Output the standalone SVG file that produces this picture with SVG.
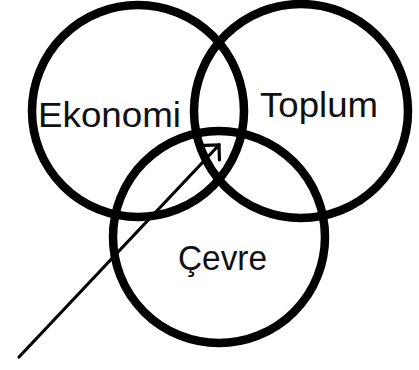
<svg xmlns="http://www.w3.org/2000/svg" width="419" height="370" viewBox="0 0 419 370">
<style>
.ring{fill:none;stroke:#000;stroke-width:8.5}
.lbl{font-family:"Liberation Sans","DejaVu Sans",sans-serif;font-size:35px;fill:#111}
.conn{fill:none;stroke:#000;stroke-width:3.2;stroke-linecap:round}
</style>
<defs>
<marker id="arrow" markerUnits="userSpaceOnUse" markerWidth="30" markerHeight="30" viewBox="-15 -15 30 30" refX="0" refY="0" orient="auto" overflow="visible">
<path d="M-10.5,-10.5 L0,0 L-10.5,10.5" fill="none" stroke="#000" stroke-width="3.2" stroke-linecap="round" stroke-linejoin="miter"/>
</marker>
</defs>
<rect width="419" height="370" fill="#fff"/>
<g id="ekonomi">
<circle class="ring" cx="138" cy="111" r="106"/>
<text class="lbl" x="38" y="127" textLength="143" lengthAdjust="spacingAndGlyphs">Ekonomi</text>
</g>
<g id="toplum">
<circle class="ring" cx="301" cy="111" r="107"/>
<text class="lbl" x="260" y="117" textLength="118" lengthAdjust="spacingAndGlyphs">Toplum</text>
</g>
<g id="cevre">
<circle class="ring" cx="219" cy="237" r="106"/>
<text class="lbl" x="178" y="270" textLength="89" lengthAdjust="spacingAndGlyphs">Çevre</text>
</g>
<g id="connectors">
<path class="conn" d="M19,357 L219,145" marker-end="url(#arrow)"/>
</g>
</svg>
